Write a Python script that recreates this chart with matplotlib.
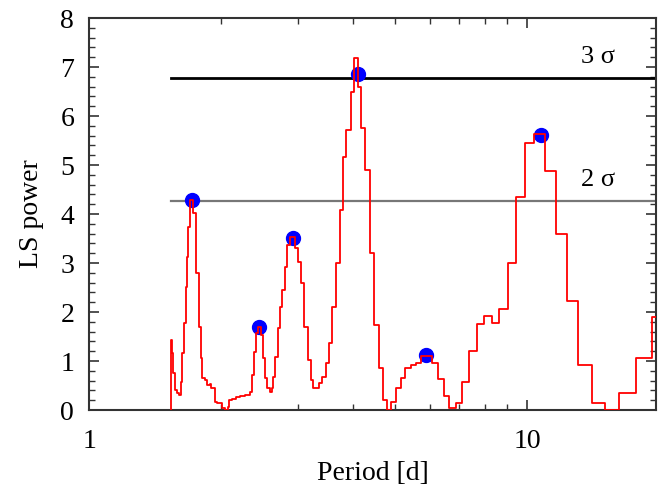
import numpy as np
import matplotlib
matplotlib.use("Agg")
import matplotlib.pyplot as plt
from matplotlib.ticker import MultipleLocator, FixedLocator, NullFormatter

# periodogram, step edges (period in days) and LS power
period = [1.532, 1.532, 1.543, 1.554, 1.565, 1.582, 1.601, 1.618, 1.629, 1.644,
          1.658, 1.667, 1.681, 1.693, 1.699, 1.725, 1.751, 1.775, 1.794, 1.806,
          1.835, 1.851, 1.884, 1.900, 1.917, 1.934, 1.957, 2.006, 2.038, 2.067,
          2.081, 2.122, 2.167, 2.205, 2.263, 2.324, 2.349, 2.374, 2.399, 2.428,
          2.466, 2.492, 2.518, 2.550, 2.581, 2.608, 2.626, 2.659, 2.692, 2.724,
          2.759, 2.797, 2.832, 2.867, 2.943, 2.995, 3.038, 3.086, 3.151, 3.202,
          3.247, 3.338, 3.397, 3.463, 3.524, 3.587, 3.650, 3.728, 3.793, 3.862,
          3.950, 4.019, 4.104, 4.178, 4.267, 4.364, 4.464, 4.575, 4.680, 4.784,
          4.890, 5.020, 5.136, 5.272, 5.421, 5.566, 5.726, 6.066, 6.247, 6.447,
          6.643, 6.881, 7.101, 7.379, 7.667, 7.984, 8.296, 8.640, 9.023, 9.430,
          9.886, 10.39, 10.96, 11.63, 12.32, 13.10, 14.03, 15.07, 16.22, 17.71,
          19.32, 19.70]
power = [0.00, 1.43, 1.16, 0.75, 0.41, 0.35, 0.31, 0.57, 1.16, 1.77,
         2.51, 3.12, 3.73, 4.08, 4.29, 4.02, 2.80, 1.69, 1.06, 0.65,
         0.62, 0.51, 0.53, 0.45, 0.45, 0.16, 0.14, 0.04, 0.00, 0.06,
         0.20, 0.22, 0.27, 0.29, 0.31, 0.37, 0.71, 1.18, 1.57, 1.69,
         1.53, 1.06, 0.65, 0.45, 0.37, 0.45, 0.67, 1.08, 1.67, 2.10,
         2.45, 2.92, 3.37, 3.53, 3.31, 3.02, 2.59, 1.69, 1.02, 0.61,
         0.45, 0.55, 0.67, 0.96, 1.37, 2.10, 3.00, 4.08, 5.16, 5.71,
         6.49, 7.18, 6.59, 5.76, 4.90, 3.20, 1.73, 0.86, 0.20, 0.00,
         0.16, 0.45, 0.65, 0.86, 0.92, 0.96, 1.10, 0.96, 0.63, 0.29,
         0.04, 0.14, 0.57, 1.20, 1.76, 1.92, 1.78, 2.06, 3.00, 4.35,
         5.45, 5.63, 4.88, 3.59, 2.22, 0.92, 0.14, 0.00, 0.35, 1.06,
         1.90, 1.90]

# marked peaks
peak_period = [1.714, 2.437, 2.913, 4.098, 5.888, 10.77]
peak_power = [4.29, 1.70, 3.52, 6.86, 1.12, 5.62]

# false alarm levels
sig_levels = [6.78, 4.27]
sig_labels = ["3 σ", "2 σ"]
sig_colors = ["black", "#777777"]
sig_start = 1.535

plt.rcParams['font.family'] = ['Liberation Serif', 'DejaVu Serif']

fig = plt.figure(figsize=(6.58, 4.87), dpi=100)
ax = fig.add_axes([0.136, 0.158, 0.861, 0.805])

for lev, lab, col, lw in zip(sig_levels, sig_labels, sig_colors, [2.0, 1.6]):
    ax.plot([sig_start, 19.7], [lev, lev], color=col, lw=lw, zorder=2)
    ax.text(14.5, lev + 0.2, lab, fontsize=19, ha='center', va='bottom')

ax.plot(peak_period, peak_power, 'o', color='blue', ms=10, mec='blue', zorder=3)
ax.plot(period, power, drawstyle='steps-post', color='red', lw=1.3, zorder=4)

ax.set_xscale('log')
ax.set_xlim(1, 19.7)
ax.set_ylim(0, 8)
ax.xaxis.set_major_locator(FixedLocator([1, 10]))
ax.xaxis.set_minor_locator(FixedLocator([2, 3, 4, 5, 6, 7, 8, 9, 20]))
ax.xaxis.set_major_formatter(matplotlib.ticker.FixedFormatter(["1", "10"]))
ax.xaxis.set_minor_formatter(NullFormatter())
ax.yaxis.set_major_locator(MultipleLocator(1))
ax.yaxis.set_minor_locator(MultipleLocator(0.2))

ax.tick_params(which='both', direction='in', top=True, right=True,
               labelsize=20, color='#333333')
ax.tick_params(which='major', length=7, width=1.2)
ax.tick_params(which='minor', length=4, width=1.0)
ax.tick_params(axis='x', which='major', pad=14)
ax.tick_params(axis='y', which='major', pad=11)
for s in ax.spines.values():
    s.set_linewidth(1.5)
    s.set_color('#333333')

ax.set_xlabel('Period [d]', fontsize=20, labelpad=5)
ax.set_ylabel('LS power', fontsize=20, labelpad=12)

fig.savefig('out.png', dpi=100)
